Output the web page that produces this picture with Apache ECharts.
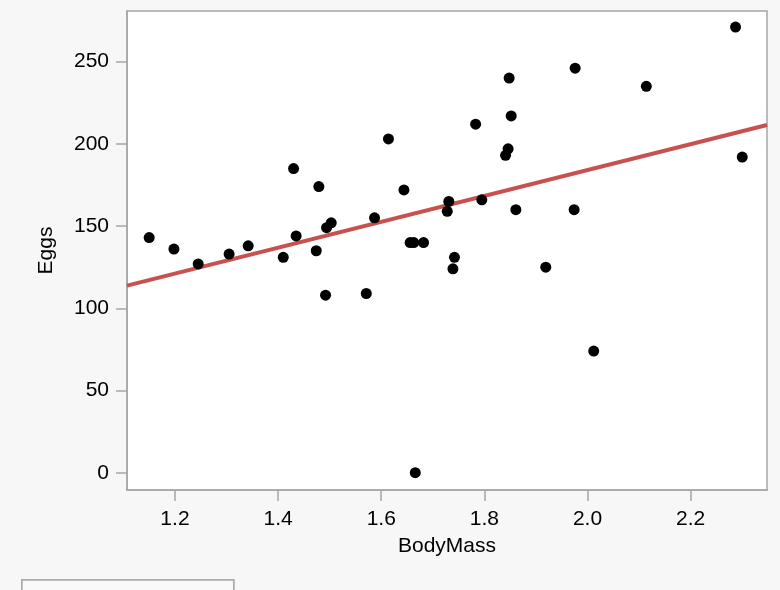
<!DOCTYPE html>
<html>
<head>
    <meta charset="utf-8">
    <title>Eggs vs BodyMass</title>
    <script src="https://cdn.jsdelivr.net/npm/echarts@6/dist/echarts.min.js"></script>
    <style>
        html, body { margin: 0; padding: 0; background: #f7f7f7; }
        #chart { width: 780px; height: 590px; }
    </style>
</head>
<body>
<div id="chart"></div>
<script type="text/javascript">
    // body mass / eggs
    var bodyMass = [1.150, 1.198, 1.245, 1.305, 1.342, 1.410, 1.430, 1.435, 1.479, 1.474,
        1.492, 1.494, 1.503, 1.571, 1.587, 1.614, 1.644, 1.656, 1.663, 1.682,
        1.666, 1.728, 1.731, 1.739, 1.742, 1.783, 1.795, 1.841, 1.846, 1.848,
        1.852, 1.861, 1.919, 1.974, 1.976, 2.012, 2.114, 2.287, 2.300];
    var eggs = [143, 136, 127, 133, 138, 131, 185, 144, 174, 135,
        108, 149, 152, 109, 155, 203, 172, 140, 140, 140,
        0, 159, 165, 124, 131, 212, 166, 193, 197, 240,
        217, 160, 125, 160, 246, 74, 235, 271, 192];

    // fitted line, two ends at the plot edges
    var fitX = [1.107, 2.348];
    var fitY = [113.8, 211.5];

    var xTicks = [1.2, 1.4, 1.6, 1.8, 2.0, 2.2];
    var yTicks = [0, 50, 100, 150, 200, 250];

    var points = bodyMass.map(function (m, i) { return [m, eggs[i]]; });
    var fitLine = fitX.map(function (x, i) { return [x, fitY[i]]; });

    var font = 'Liberation Sans, Arial, Helvetica, sans-serif';
    var gray = '#a6a6a6';

    var myChart = echarts.init(document.getElementById('chart'));
    myChart.setOption({
        backgroundColor: '#f7f7f7',
        animation: false,
        grid: {
            left: 127, top: 11, right: 13, bottom: 100,
            show: true,
            backgroundColor: '#ffffff',
            borderColor: gray,
            borderWidth: 1.5
        },
        xAxis: {
            type: 'value',
            min: 1.107,
            max: 2.348,
            name: 'BodyMass',
            nameLocation: 'middle',
            nameGap: 46,
            nameTextStyle: { color: '#000', fontSize: 21, fontFamily: font },
            axisLine: { show: true, onZero: false, lineStyle: { color: gray, width: 1.5 } },
            axisTick: { show: true, length: 11, customValues: xTicks, lineStyle: { color: gray, width: 1.5 } },
            axisLabel: {
                customValues: xTicks,
                margin: 19,
                color: '#000', fontSize: 21, fontFamily: font,
                formatter: function (v) { return v.toFixed(1); }
            },
            splitLine: { show: false }
        },
        yAxis: {
            type: 'value',
            min: -10.5,
            max: 280.8,
            name: 'Eggs',
            nameLocation: 'middle',
            nameGap: 70,
            nameTextStyle: { color: '#000', fontSize: 21, fontFamily: font },
            axisLine: { show: true, onZero: false, lineStyle: { color: gray, width: 1.5 } },
            axisTick: { show: true, length: 11, customValues: yTicks, lineStyle: { color: gray, width: 1.5 } },
            axisLabel: {
                customValues: yTicks,
                margin: 18,
                color: '#000', fontSize: 21, fontFamily: font
            },
            splitLine: { show: false }
        },
        series: [
            {
                type: 'line',
                data: fitLine,
                symbol: 'none',
                lineStyle: { color: '#c8504f', width: 4 },
                z: 2
            },
            {
                type: 'scatter',
                data: points,
                symbolSize: 11,
                itemStyle: { color: '#000', opacity: 1 },
                z: 3
            }
        ],
        graphic: [
            {
                type: 'rect',
                left: 21,
                top: 579,
                shape: { width: 212, height: 24 },
                style: { fill: '#f9f9f9', stroke: '#aaaaaa', lineWidth: 1.7 }
            }
        ]
    });
</script>
</body>
</html>
